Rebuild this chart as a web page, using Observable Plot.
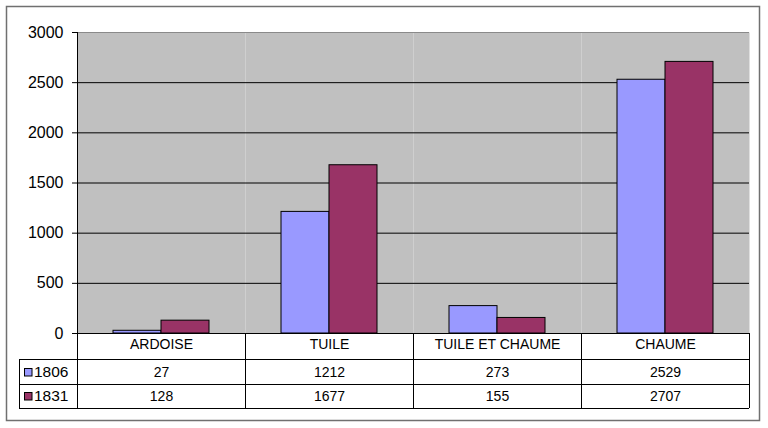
<!DOCTYPE html>
<html><head><meta charset="utf-8">
<script src="https://cdn.jsdelivr.net/npm/d3@7"></script>
<script src="https://cdn.jsdelivr.net/npm/@observablehq/plot@0.6"></script>
<style>html,body{margin:0;padding:0;background:#fff} svg{display:block}</style>
</head><body><div id="chart"></div>
<script>
const categories = ["ARDOISE", "TUILE", "TUILE ET CHAUME", "CHAUME"];
const years = ["1806", "1831"];
const values1806 = [27, 1212, 273, 2529];
const values1831 = [128, 1677, 155, 2707];
const yTicks = [0, 500, 1000, 1500, 2000, 2500, 3000];
const colors = ["#9999ff", "#993366"];

const data = categories.flatMap((c, i) => [
  {cat: c, year: years[0], value: values1806[i]},
  {cat: c, year: years[1], value: values1831[i]}
]);

const font = "'Liberation Sans', Arial, sans-serif";
const rowDy = [11.5, 39, 63];

const chart = Plot.plot({
  width: 768, height: 428,
  marginLeft: 77, marginRight: 19, marginTop: 32, marginBottom: 95,
  style: {fontFamily: font, fontSize: "14px", color: "#000", background: "#fff", overflow: "visible"},
  fx: {domain: categories, padding: 0, axis: null, label: null},
  x: {domain: years, paddingInner: 0, paddingOuter: 0.75, axis: null, label: null},
  y: {domain: [0, 3000], axis: null, label: null},
  color: {domain: years, range: colors},
  marks: [
    Plot.frame({fill: "#c0c0c0", stroke: null}),
    Plot.ruleY(yTicks.filter(t => t > 0 && t < 3000), {stroke: "#000", strokeWidth: 1}),
    Plot.ruleY([3000], {stroke: "#8a8a8a", strokeWidth: 1}),
    Plot.barY(data, {fx: "cat", x: "year", y: "value", fill: "year", stroke: "#000", strokeWidth: 1}),
    Plot.axisY(yTicks, {anchor: "left", tickSize: 5, tickPadding: 9, fontSize: 16, label: null, stroke: "#000", tickFormat: d => String(d), facetAnchor: "left"}),
    Plot.ruleY([0], {stroke: "#000"}),
    Plot.text(categories, {fx: d => d, text: d => d, frameAnchor: "bottom", lineAnchor: "middle", dy: rowDy[0], fontSize: 14}),
    Plot.text(data.filter(d => d.year === years[0]), {fx: "cat", text: d => String(d.value), frameAnchor: "bottom", lineAnchor: "middle", dy: rowDy[1], fontSize: 14}),
    Plot.text(data.filter(d => d.year === years[1]), {fx: "cat", text: d => String(d.value), frameAnchor: "bottom", lineAnchor: "middle", dy: rowDy[2], fontSize: 14})
  ]
});
document.getElementById("chart").append(chart);

// data table grid + legend, positioned from the chart's own scales
const svg = d3.select(chart.tagName.toLowerCase() === "svg" ? chart : chart.querySelector("svg"));
const yS = chart.scale("y"), fxS = chart.scale("fx");
const y0 = yS.apply(0), yTop = yS.apply(3000);
const step = fxS.bandwidth !== undefined ? fxS.bandwidth : (fxS.apply(categories[1]) - fxS.apply(categories[0]));
const xL = fxS.apply(categories[0]);
const xR = fxS.apply(categories[categories.length - 1]) + step;
const tableLeft = 19;
const rowEdges = [y0, y0 + 26, y0 + 51, y0 + 75];
const g = svg.append("g").attr("stroke", "#000").attr("stroke-width", 1).attr("shape-rendering", "crispEdges");
for (let i = 1; i < rowEdges.length; i++) {
  g.append("line").attr("x1", tableLeft).attr("x2", xR).attr("y1", rowEdges[i]).attr("y2", rowEdges[i]);
}
g.append("line").attr("x1", tableLeft).attr("x2", tableLeft).attr("y1", rowEdges[1]).attr("y2", rowEdges[3]);
g.append("line").attr("x1", xL).attr("x2", xL).attr("y1", yTop).attr("y2", rowEdges[3]);
categories.forEach(c => {
  const xe = fxS.apply(c) + step;
  g.append("line").attr("x1", xe).attr("x2", xe).attr("y1", y0).attr("y2", rowEdges[3]);
});
years.forEach((yr, i) => {
  const cy = y0 + rowDy[i + 1];
  svg.append("rect").attr("x", 24.5).attr("y", cy - 3.5).attr("width", 7.5).attr("height", 7.5)
    .attr("fill", colors[i]).attr("stroke", "#000").attr("stroke-width", 1);
  svg.append("text").attr("x", 34).attr("y", cy).attr("dy", "0.35em").attr("text-anchor", "start")
    .attr("font-family", font).attr("font-size", 15.5).attr("fill", "#000").text(yr);
});
// outer chart border
svg.append("rect").attr("x", 6.5).attr("y", 6.5).attr("width", 753).attr("height", 414)
  .attr("fill", "none").attr("stroke", "#707070").attr("stroke-width", 1.5);
</script>
</body></html>
